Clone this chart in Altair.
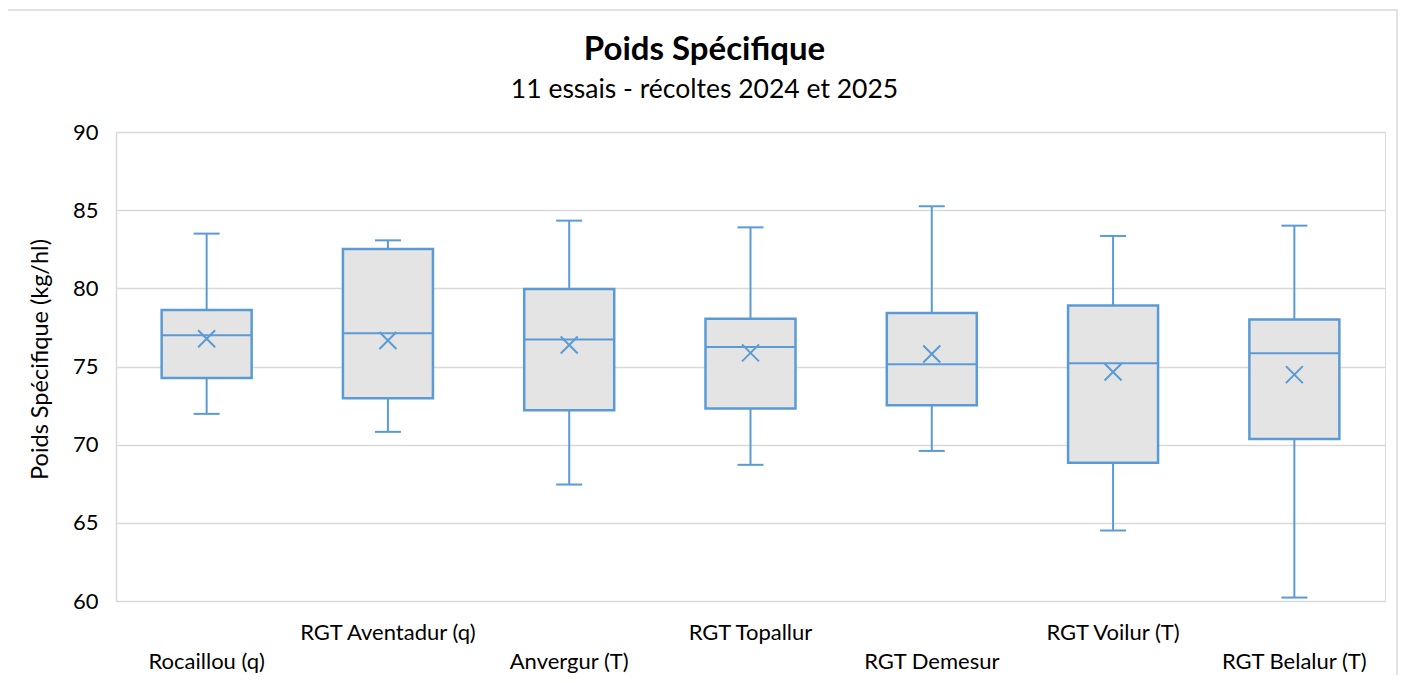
import altair as alt
import pandas as pd

categories = ["Rocaillou (q)", "RGT Aventadur (q)", "Anvergur (T)", "RGT Topallur",
              "RGT Demesur", "RGT Voilur (T)", "RGT Belalur (T)"]
v_min = [71.97, 70.82, 67.45, 68.71, 69.60, 64.51, 60.22]
v_q1 = [74.27, 72.97, 72.20, 72.31, 72.52, 68.84, 70.37]
v_median = [77.00, 77.12, 76.72, 76.25, 75.14, 75.20, 75.84]
v_mean = [76.78, 76.66, 76.38, 75.87, 75.80, 74.65, 74.48]
v_q3 = [78.62, 82.52, 79.96, 78.06, 78.43, 78.90, 78.00]
v_max = [83.50, 83.07, 84.33, 83.90, 85.25, 83.35, 84.01]
label_row = ["bas", "haut", "bas", "haut", "bas", "haut", "bas"]
y_ticks = [60, 65, 70, 75, 80, 85, 90]

df = pd.DataFrame({
    "variete": categories, "min": v_min, "q1": v_q1, "median": v_median,
    "mean": v_mean, "q3": v_q3, "max": v_max, "row": label_row,
})

BLUE = "#5B9BD5"
FONT = "Lato"

x_enc = alt.X("variete:N", sort=categories,
              scale=alt.Scale(domain=categories, paddingInner=0, paddingOuter=0),
              axis=None)
y_scale = alt.Scale(domain=[60, 90], nice=False, zero=False)
y_axis = alt.Axis(values=y_ticks, grid=True, gridColor="#D9D9D9", gridWidth=1.5,
                  domain=True, domainColor="#D9D9D9", domainWidth=1.5, ticks=False,
                  labelFont=FONT, labelFontSize=22, labelColor="#000000", labelPadding=18,
                  title="Poids Spécifique (kg/hl)", titleFont=FONT, titleFontSize=23.5,
                  titleFontWeight="normal", titleColor="#000000", titlePadding=20,
                  titleY=227)

base = alt.Chart(df)

border = base.mark_rect(fill=None, stroke="#D9D9D9", strokeWidth=1.5).encode(
    x=alt.value(-109), x2=alt.value(1281), y=alt.value(-122), y2=alt.value(600)
).transform_filter(alt.datum.variete == categories[0])

whisker = base.mark_rule(color=BLUE, strokeWidth=2, opacity=1).encode(
    x=x_enc,
    y=alt.Y("min:Q", scale=y_scale, axis=y_axis),
    y2="max:Q",
)
box = base.mark_bar(size=90, fill="#E4E4E4", stroke=BLUE, strokeWidth=2.5, opacity=1).encode(
    x=x_enc, y=alt.Y("q1:Q", scale=y_scale), y2="q3:Q"
)
median = base.mark_tick(size=90, thickness=2, color=BLUE, opacity=1).encode(
    x=x_enc, y=alt.Y("median:Q", scale=y_scale)
)
cap_low = base.mark_tick(size=26, thickness=2, color=BLUE, opacity=1).encode(
    x=x_enc, y=alt.Y("min:Q", scale=y_scale)
)
cap_high = base.mark_tick(size=26, thickness=2, color=BLUE, opacity=1).encode(
    x=x_enc, y=alt.Y("max:Q", scale=y_scale)
)
mean_pt = base.mark_point(shape="M-1,-1L1,1M1,-1L-1,1", size=289, filled=False,
                          stroke=BLUE, strokeWidth=2, opacity=1).encode(
    x=x_enc, y=alt.Y("mean:Q", scale=y_scale)
)
lab_high = base.mark_text(font=FONT, fontSize=22, color="#000000", baseline="middle").encode(
    x=x_enc, y=alt.value(501), text="variete:N"
).transform_filter(alt.datum.row == "haut")
lab_low = base.mark_text(font=FONT, fontSize=22, color="#000000", baseline="middle").encode(
    x=x_enc, y=alt.value(530), text="variete:N"
).transform_filter(alt.datum.row == "bas")

chart = alt.layer(
    border, whisker, box, median, cap_low, cap_high, mean_pt, lab_high, lab_low
).properties(
    width=1269, height=469,
    autosize=alt.AutoSizeParams(type="none"),
    padding={"left": 108, "top": 124, "right": 14, "bottom": 74},
    title=alt.TitleParams(
        text="Poids Spécifique", subtitle="11 essais - récoltes 2024 et 2025",
        font=FONT, fontSize=33, fontWeight="bold", color="#000000",
        subtitleFont=FONT, subtitleFontSize=26.5, subtitleColor="#000000",
        anchor="middle", dx=-46, offset=-94, subtitlePadding=10,
    ),
).configure_view(stroke=None).configure(background="white")

chart.save("out.html", embed_options={"renderer": "svg", "actions": False})
